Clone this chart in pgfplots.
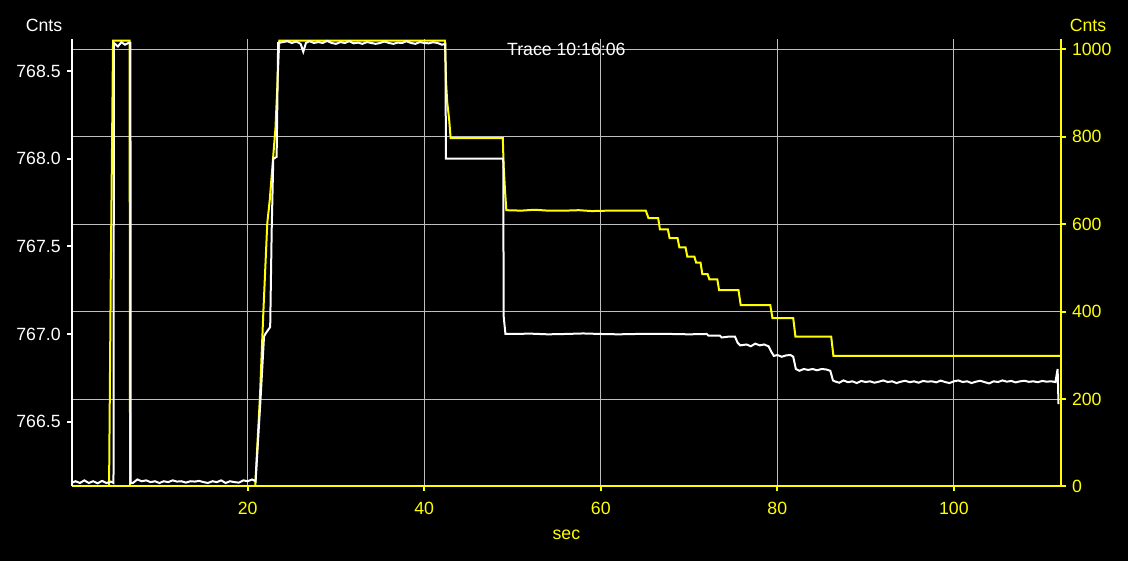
\documentclass[border=0pt]{standalone}
\usepackage{fontspec}
\setmainfont{Liberation Sans}
\usepackage{pgfplots}
\pgfplotsset{compat=1.18}
\definecolor{gridgray}{RGB}{190,190,190}
\definecolor{tyellow}{RGB}{255,255,0}

\pgfplotsset{
  tracebox/.style={
    at={(36pt,37.25pt)}, anchor=south west,
    scale only axis, width=494.35pt, height=223.6pt,
    xmin=0.1, xmax=112.1,
    clip mode=individual,
    tick align=outside, major tick length=2.5pt,
    /pgf/number format/assume math mode=true,
    /pgf/number format/1000 sep={},
    scaled ticks=false,
    ticklabel style={font=\fontsize{8.85}{10}\selectfont},
  },
}

\begin{document}
\fontsize{8.85}{10}\selectfont
\begin{tikzpicture}
\fill[black] (0,0) rectangle (564pt,280.5pt);

% right axis (yellow) with grid and time axis
\begin{axis}[
  tracebox,
  ymin=0, ymax=1022.9,
  axis x line*=bottom, axis y line*=right,
  axis line style={-, tyellow, line width=1pt},
  xtick={20,40,60,80,100},
  ytick={0,200,400,600,800,1000},
  tick style={tyellow, line width=1pt},
  ticklabel style={tyellow},
  xticklabel style={yshift=-2pt},
  grid=major, grid style={gridgray, line width=0.5pt},
]
\addplot[tyellow, line width=1pt] coordinates {
  (0,0) (4.3,0) (4.5,500) (4.75,1020) (6.62,1020) (6.68,0) (20.85,0)
  (21.39,205) (21.77,396) (22.22,602) (22.5,655) (23.15,820) (23.35,911)
  (23.58,1020) (42.35,1020) (42.46,929) (42.6,880) (42.83,838) (42.99,797)
  (48.9,797) (49.0,731) (49.15,678) (49.3,632) (51,631) (52.5,633) (54,631)
  (56,631) (57.5,632) (59,630) (61,631) (63,631) (65.1,631) (65.4,614)
  (66.5,614) (66.7,588) (67.6,588) (67.8,568) (68.7,568) (68.9,547)
  (69.6,547) (69.8,526) (70.6,526) (70.8,512) (71.3,512) (71.5,486)
  (72.1,486) (72.3,474) (73.2,474) (73.4,449) (75.6,449) (75.85,415)
  (79.2,415) (79.45,385) (81.8,385) (82.05,343) (86.1,343) (86.35,299)
  (112.1,299)
};
\node[tyellow, anchor=base] at (rel axis cs:0.5,0) [yshift=-26.4pt] {sec};
\node[tyellow, anchor=base] at (rel axis cs:1,1) [xshift=13.65pt, yshift=3.8pt] {Cnts};
\end{axis}

% left axis (white)
\begin{axis}[
  tracebox,
  ymin=766.13, ymax=768.681,
  axis x line=none, axis y line*=left,
  axis line style={-, white, line width=1pt},
  ytick={766.5,767,767.5,768,768.5},
  tick style={white, line width=1pt},
  ticklabel style={white},
  yticklabel style={/pgf/number format/fixed, /pgf/number format/fixed zerofill,
    /pgf/number format/precision=1},
]
\addplot[white, line width=1pt] coordinates {
  (0,766.15) (0.5,766.16) (1,766.15) (1.5,766.165) (2,766.15) (2.5,766.16)
  (3,766.148) (3.5,766.162) (4,766.15) (4.5,766.158) (4.8,766.15)
  (4.85,768.66) (5.3,768.64) (5.7,768.665) (6.1,768.65) (6.5,768.66)
  (6.72,768.66) (6.75,766.15)
  (7,766.15) (7.5,766.17) (8,766.16) (8.5,766.165) (9,766.155) (9.5,766.16)
  (10,766.15) (10.5,766.16) (11,766.155) (11.5,766.165) (12,766.158)
  (12.5,766.16) (13,766.152) (13.5,766.16) (14,766.158) (14.5,766.162)
  (15,766.155) (15.5,766.15) (16,766.16) (16.5,766.155) (17,766.165)
  (17.5,766.15) (18,766.16) (18.5,766.155) (19,766.152) (19.5,766.165)
  (20,766.16) (20.5,766.17) (20.9,766.16)
  (21.47,766.64) (21.85,766.985) (22.0,767.0) (22.55,767.04) (22.72,767.59)
  (22.9,768.0) (23.28,768.01) (23.45,768.66)
  (24,768.665) (24.5,768.67) (25,768.66) (25.5,768.668) (26,768.655)
  (26.3,768.61) (26.6,768.66) (27,768.67) (27.5,768.66) (28,768.665)
  (28.5,768.66) (29,768.672) (29.5,768.66) (30,768.655) (30.5,768.665)
  (31,768.66) (31.5,768.67) (32,768.658) (32.5,768.662) (33,768.655)
  (33.5,768.665) (34,768.66) (34.5,768.655) (35,768.66) (35.5,768.668)
  (36,768.66) (36.5,768.655) (37,768.662) (37.5,768.66) (38,768.67)
  (38.5,768.66) (39,768.655) (39.5,768.665) (40,768.66) (40.5,768.658)
  (41,768.664) (41.5,768.66) (42.0,768.65) (42.4,768.655)
  (42.46,768.0) (48.95,768.0) (49.0,767.1) (49.2,767.0)
  (50,767.0) (52,767.002) (54,766.998) (56,767.0) (58,767.003) (60,767.0)
  (62,766.998) (64,767.0) (66,767.001) (68,767.0) (70,766.998) (72.0,767.0)
  (72.2,766.99) (73.5,766.99) (73.7,766.98) (74.5,766.985) (75.2,766.985)
  (75.5,766.95) (75.8,766.935) (76.5,766.94) (77,766.93) (77.5,766.945)
  (78,766.935) (78.5,766.94) (79,766.93) (79.3,766.9) (79.6,766.875)
  (80,766.88) (80.5,766.87) (81,766.878) (81.5,766.88) (81.8,766.87)
  (82.1,766.8) (82.5,766.79) (83,766.8) (83.5,766.795) (84,766.8)
  (84.5,766.793) (85,766.8) (85.5,766.798) (86,766.79) (86.3,766.735)
  (86.5,766.73) (87,766.722) (87.5,766.735) (88,766.725) (88.5,766.73)
  (89,766.72) (89.5,766.732) (90,766.726) (90.5,766.73) (91,766.722)
  (91.5,766.728) (92,766.735) (92.5,766.726) (93,766.73) (93.5,766.72)
  (94,766.728) (94.5,766.733) (95,766.725) (95.5,766.73) (96,766.722)
  (96.5,766.732) (97,766.728) (97.5,766.73) (98,766.724) (98.5,766.734)
  (99,766.726) (99.5,766.72) (100,766.73) (100.5,766.735) (101,766.726)
  (101.5,766.73) (102,766.72) (102.5,766.728) (103,766.733) (103.5,766.725)
  (104,766.718) (104.5,766.73) (105,766.726) (105.5,766.735) (106,766.728)
  (106.5,766.732) (107,766.724) (107.5,766.73) (108,766.733) (108.5,766.727)
  (109,766.73) (109.5,766.725) (110,766.732) (110.5,766.728) (111,766.73)
  (111.5,766.726) (111.75,766.8) (111.85,766.6)
};
\node[white, anchor=base] at (rel axis cs:0.5,1) [yshift=-8.35pt] {Trace 10:16:06};
\node[white, anchor=base] at (rel axis cs:0,1) [xshift=-14pt, yshift=3.8pt] {Cnts};
\end{axis}
\pgfresetboundingbox
\useasboundingbox (0,0) rectangle (564pt,280.5pt);
\end{tikzpicture}
\end{document}
